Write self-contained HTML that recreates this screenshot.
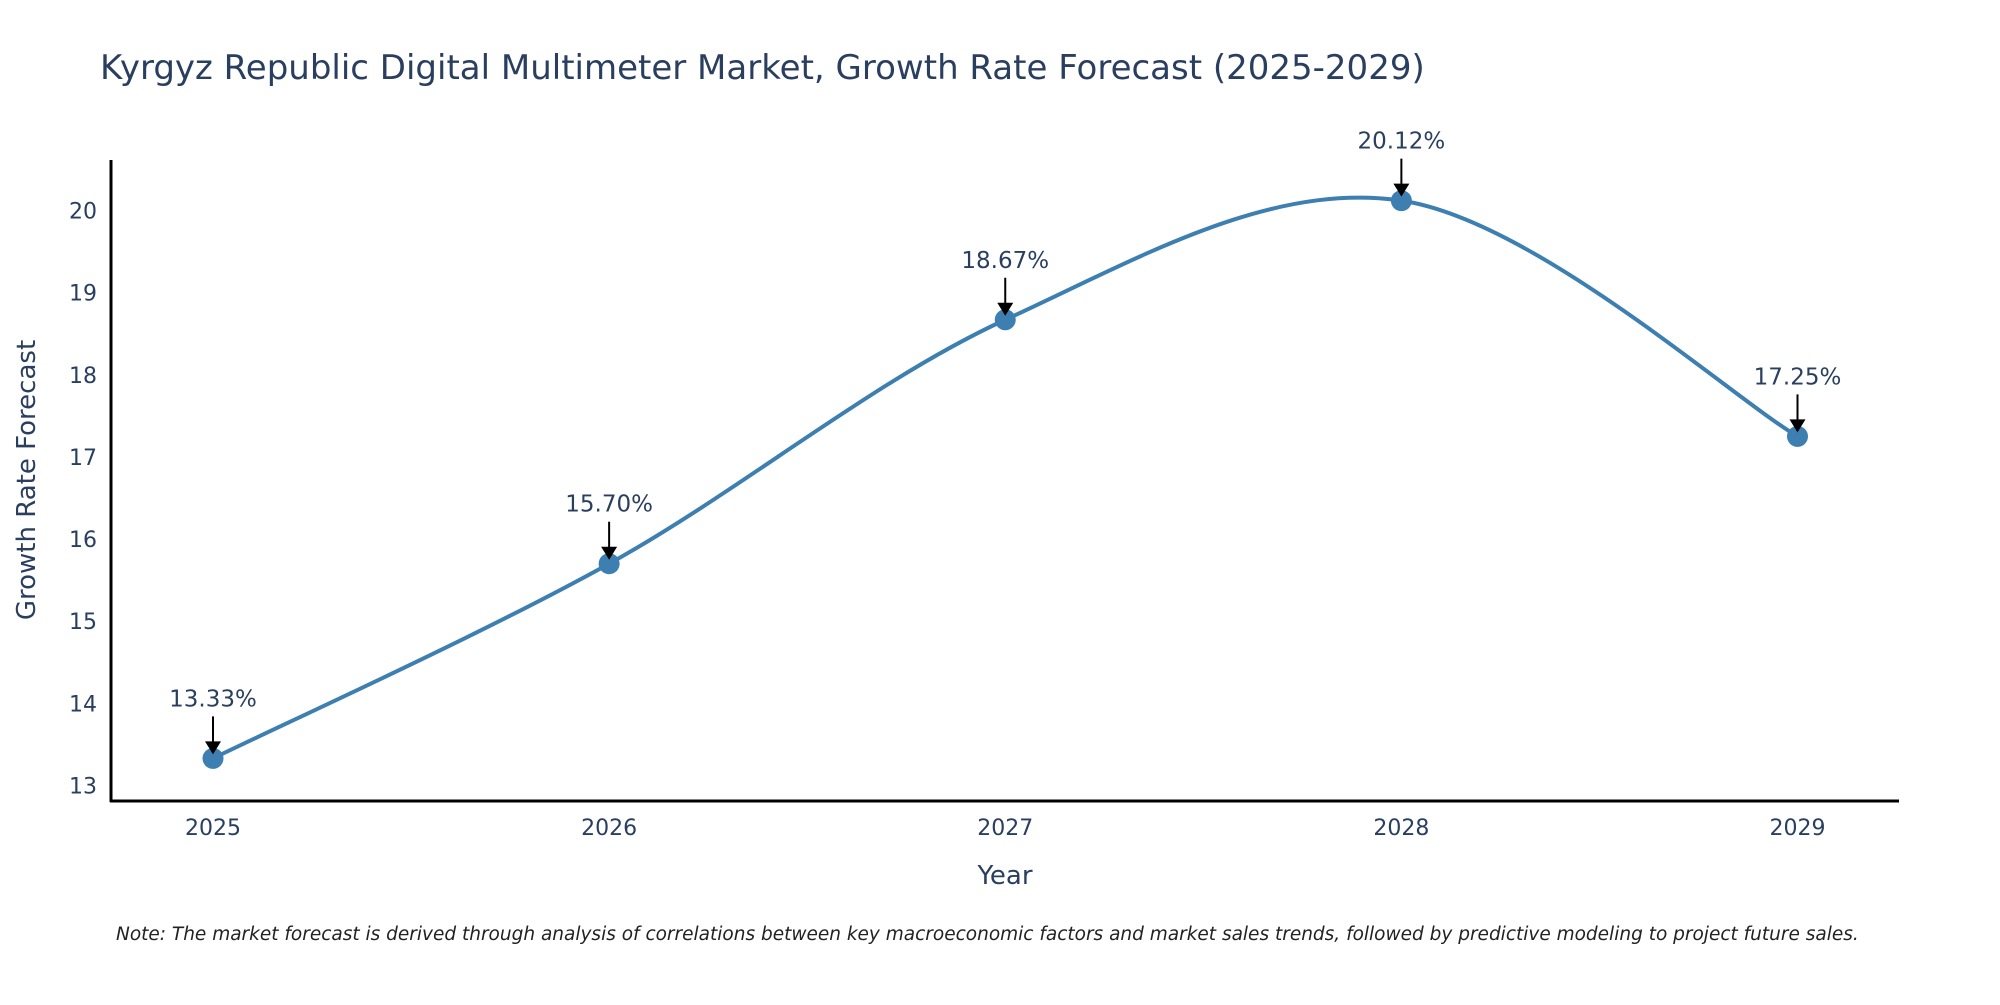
<!DOCTYPE html>
<html><head><meta charset="utf-8"><style>
body{margin:0;background:#fff;overflow:hidden;}
svg text{font-family:"DejaVu Sans","Liberation Sans",sans-serif;fill:#2a3f5f;}
</style></head><body>
<svg id="chart" width="2000" height="1000" viewBox="0 0 2000 1000" xmlns="http://www.w3.org/2000/svg">
<text x="100" y="79" font-size="34">Kyrgyz Republic Digital Multimeter Market, Growth Rate Forecast (2025-2029)</text>
<g id="yticks"></g>
<g id="xticks"></g>
<line x1="111" y1="160" x2="111" y2="802" stroke="#000" stroke-width="3"/>
<line x1="110" y1="801" x2="1899" y2="801" stroke="#000" stroke-width="3"/>
<text transform="translate(35,480) rotate(-90)" text-anchor="middle" font-size="26">Growth Rate Forecast</text>
<text x="1005" y="884" text-anchor="middle" font-size="26">Year</text>
<path id="line" fill="none" stroke="#3d7fb0" stroke-width="4"/>
<g id="marks"></g>
<text x="116" y="940" font-size="18.5" font-style="italic" style="fill:#222">Note: The market forecast is derived through analysis of correlations between key macroeconomic factors and market sales trends, followed by predictive modeling to project future sales.</text>
</svg>
<script>
const years = ["2025","2026","2027","2028","2029"];
const values = [13.33, 15.70, 18.67, 20.12, 17.25];
const yTicks = [13,14,15,16,17,18,19,20];
const NS="http://www.w3.org/2000/svg";
function xs(i){return 213 + i*(1797.5-213)/4;}
function ys(v){return 785.5 - (v-13)*(785.5-210.5)/7;}
function mk(t,a,p){const e=document.createElementNS(NS,t);for(const k in a)e.setAttribute(k,a[k]);p.appendChild(e);return e;}
const yg=document.getElementById('yticks');
yTicks.forEach(t=>{const e=mk('text',{x:97,y:ys(t)+8,'text-anchor':'end','font-size':22},yg);e.textContent=t;

});
const xg=document.getElementById('xticks');
years.forEach((y,i)=>{const e=mk('text',{x:xs(i),y:835,'text-anchor':'middle','font-size':22},xg);e.textContent=y;

});
const P=values.map((v,i)=>[xs(i),ys(v)]);
let d=`M${P[0][0]},${P[0][1]}`;
for(let i=0;i<P.length-1;i++){
 const p0=P[Math.max(0,i-1)],p1=P[i],p2=P[i+1],p3=P[Math.min(P.length-1,i+2)];
 const k=1/6;
 const c1=[p1[0]+(p2[0]-p0[0])*k,p1[1]+(p2[1]-p0[1])*k];
 const c2=[p2[0]-(p3[0]-p1[0])*k,p2[1]-(p3[1]-p1[1])*k];
 d+=` C${c1[0]},${c1[1]} ${c2[0]},${c2[1]} ${p2[0]},${p2[1]}`;
}
document.getElementById('line').setAttribute('d',d);
const mg=document.getElementById('marks');
P.forEach((p,i)=>{
 const c=mk('circle',{cx:p[0],cy:p[1],r:10.5,fill:'#3d7fb0'},mg);
 
 
 const l=mk('line',{x1:p[0],y1:p[1]-42,x2:p[0],y2:p[1]-14,stroke:'#000','stroke-width':2},mg);
 
 
 const a=mk('path',{d:`M${p[0]-8},${p[1]-17} L${p[0]+8},${p[1]-17} L${p[0]},${p[1]-4} Z`,fill:'#000'},mg);
 
 
 const t=mk('text',{x:p[0],y:p[1]-52,'text-anchor':'middle','font-size':23},mg);
 t.textContent=values[i].toFixed(2)+'%';
 
 
});
</script>
</body></html>
